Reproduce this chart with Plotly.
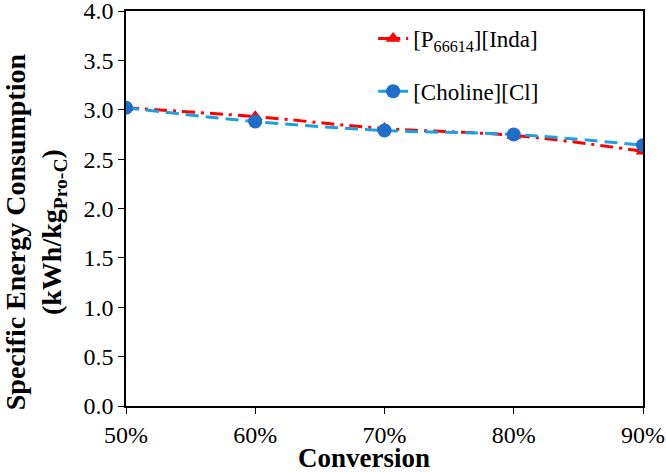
import plotly.graph_objects as go

conversion = [0.5, 0.6, 0.7, 0.8, 0.9]
p66614_inda = [3.02, 2.93, 2.81, 2.74, 2.58]
choline_cl = [3.02, 2.88, 2.79, 2.75, 2.64]
series_names = ["[P<sub>66614</sub>][Inda]", "[Choline][Cl]"]
y_ticks = [0.0, 0.5, 1.0, 1.5, 2.0, 2.5, 3.0, 3.5, 4.0]
x_ticks = [0.5, 0.6, 0.7, 0.8, 0.9]
y_title = "<b>Specific Energy Consumption<br>(kWh/kg<sub>Pro-C</sub>)</b>"
x_title = "<b>Conversion</b>"

FONT = "Liberation Serif, Times New Roman, serif"

fig = go.Figure()
fig.add_trace(go.Scatter(
    x=conversion, y=p66614_inda, name=series_names[0], mode="lines+markers",
    line=dict(color="#ff0000", width=3, dash="13px,6px,3px,6px", shape="spline"),
    marker=dict(symbol="triangle-up", size=13, color="#ff0000"),
    legendgroup="a",
))
fig.add_trace(go.Scatter(
    x=conversion, y=choline_cl, name=series_names[1], mode="lines+markers",
    line=dict(color="#1ea0e0", width=3, dash="13px,7px", shape="spline"),
    marker=dict(symbol="circle", size=14, color="#1f6fc8"),
    legendgroup="b",
))

fig.update_layout(
    width=666, height=472,
    margin=dict(l=126, r=23, t=11, b=66, autoexpand=False),
    paper_bgcolor="white", plot_bgcolor="white",
    font=dict(family=FONT, size=24, color="black"),
    showlegend=True,
    legend=dict(x=0.478, y=0.985, xanchor="left", yanchor="top",
                bgcolor="rgba(0,0,0,0)", font=dict(size=23),
                tracegroupgap=20, traceorder="grouped"),
    annotations=[
        dict(text=y_title, textangle=-90, xref="paper", yref="paper",
             x=-0.176, y=0.44, xanchor="center", yanchor="middle",
             showarrow=False, font=dict(size=28)),
        dict(text=x_title, xref="paper", yref="paper",
             x=0.46, y=-0.132, xanchor="center", yanchor="middle",
             showarrow=False, font=dict(size=27)),
    ],
)
fig.update_xaxes(
    range=[0.5, 0.9], tickvals=x_ticks, tickformat=".0%", automargin=False,
    ticklabeloverflow="allow",
    showline=True, linecolor="black", linewidth=1.5, mirror=True,
    ticks="outside", ticklen=6, tickcolor="black", showgrid=False, zeroline=False,
)
fig.update_yaxes(
    range=[0, 4.0], tickvals=y_ticks, tickformat=".1f", automargin=False,
    ticklabeloverflow="allow",
    showline=True, linecolor="black", linewidth=1.5, mirror=True,
    ticks="outside", ticklen=6, tickcolor="black", showgrid=False, zeroline=False,
)
fig.write_html("out.html", config={"displayModeBar": False},
               post_script="document.body.style.margin='0';")
